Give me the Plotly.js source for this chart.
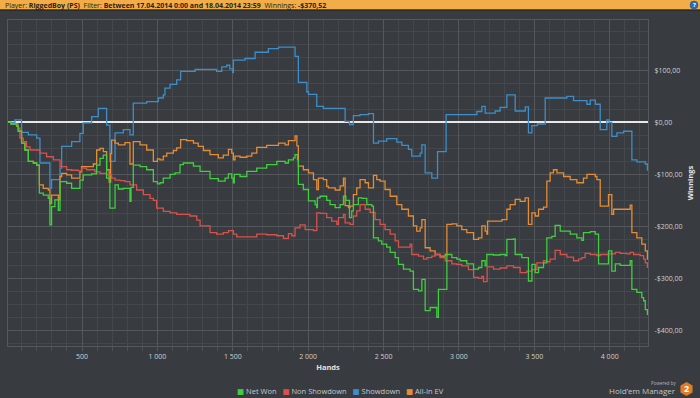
<!DOCTYPE html>
<html><head><meta charset="utf-8">
<script src="https://cdn.plot.ly/plotly-3.0.1.min.js"></script>
<style>html,body{margin:0;padding:0;background:#383b3f;}#chart{width:700px;height:398px;}</style>
</head><body><div id="chart"></div><script>
// ---- data ----
const seriesNames = ['Net Won', 'Non Showdown', 'Showdown', 'All-In EV'];
const seriesColors = ['#3fcf3f', '#d9514c', '#3d8ec9', '#e58c35'];

const netWonHands = [0,30,66,77,99,121,144,177,199,217,243,276,287,298,320,343,354,398,431,486,508,564,597,619,641,663,685,719,741,774,818,825,840,885,929,973,1000,1017,1039,1084,1117,1150,1172,1239,1283,1349,1404,1449,1471,1493,1504,1510,1548,1593,1659,1725,1792,1847,1869,1902,1913,1929,1935,1968,2002,2046,2057,2061,2079,2123,2145,2179,2212,2234,2250,2274,2289,2300,2333,2356,2389,2422,2433,2466,2488,2521,2544,2577,2599,2632,2676,2698,2732,2754,2776,2809,2853,2864,2909,2920,2953,2986,3008,3052,3097,3130,3152,3174,3185,3229,3273,3307,3318,3362,3373,3417,3461,3484,3506,3528,3561,3583,3616,3638,3672,3738,3782,3815,3826,3871,3904,3926,3981,3992,4014,4037,4070,4136,4147,4180,4213,4225,4236,4250];
const netWonValues = [0,-3,-7,-17,-40,-53,-75,-78,-82,-136,-140,-146,-197,-162,-149,-169,-114,-117,-127,-111,-101,-99,-82,-69,-63,-107,-165,-120,-128,-127,-152,-125,-82,-85,-91,-114,-118,-116,-107,-100,-97,-81,-78,-84,-94,-108,-113,-107,-99,-107,-116,-100,-104,-94,-88,-81,-75,-78,-72,-68,-62,-72,-119,-129,-151,-158,-164,-145,-142,-150,-158,-164,-158,-142,-150,-183,-170,-158,-145,-146,-158,-161,-222,-228,-234,-240,-250,-260,-273,-282,-286,-321,-324,-302,-362,-356,-375,-321,-321,-254,-260,-263,-266,-272,-282,-279,-266,-276,-254,-255,-254,-256,-225,-224,-254,-260,-305,-273,-289,-279,-270,-222,-219,-198,-209,-215,-222,-227,-212,-210,-215,-272,-272,-247,-286,-272,-275,-266,-321,-327,-337,-343,-360,-370.52];

const nonShowdownHands = [0,30,77,88,110,132,155,188,221,265,310,354,398,431,475,497,530,586,619,663,696,719,752,785,818,862,907,951,973,995,1039,1084,1128,1216,1261,1283,1349,1393,1437,1471,1504,1526,1593,1659,1725,1792,1836,1869,1891,1913,1946,1980,2035,2057,2079,2123,2156,2190,2201,2234,2245,2278,2300,2322,2344,2378,2411,2444,2477,2510,2544,2577,2599,2643,2676,2687,2732,2765,2787,2820,2842,2875,2909,2953,2986,3019,3063,3097,3130,3152,3163,3187,3229,3273,3318,3362,3406,3450,3484,3517,3561,3583,3605,3638,3672,3716,3760,3793,3815,3837,3871,3915,3937,3992,4037,4070,4114,4136,4158,4202,4225,4236,4250];
const nonShowdownValues = [0,-3,-11,-30,-37,-47,-53,-53,-59,-66,-72,-85,-91,-92,-93,-88,-91,-95,-98,-101,-107,-111,-112,-114,-120,-130,-139,-146,-150,-165,-171,-174,-177,-180,-188,-199,-212,-215,-212,-208,-215,-220,-220,-215,-216,-218,-223,-214,-218,-203,-197,-206,-208,-174,-175,-183,-190,-196,-183,-177,-193,-196,-180,-170,-158,-167,-173,-187,-196,-206,-215,-228,-240,-240,-234,-254,-257,-263,-260,-257,-254,-260,-266,-272,-273,-276,-283,-298,-300,-296,-306,-278,-282,-280,-276,-279,-289,-286,-283,-270,-266,-268,-263,-246,-254,-259,-266,-263,-260,-252,-254,-256,-254,-253,-250,-252,-253,-250,-254,-256,-263,-270,-280];

const showdownHands = [0,55,99,144,199,221,287,298,354,365,431,486,508,564,608,663,685,719,774,818,840,929,1006,1039,1050,1084,1128,1154,1250,1393,1427,1460,1480,1500,1504,1581,1648,1736,1803,1913,1935,1991,2002,2057,2101,2245,2274,2300,2344,2400,2433,2466,2521,2588,2621,2665,2687,2743,2754,2776,2820,2858,2915,3119,3152,3174,3240,3273,3318,3373,3440,3461,3484,3520,3572,3716,3760,3849,3871,3905,3937,3981,3995,4014,4048,4092,4147,4180,4236,4250];
const showdownValues = [0,5,-19,-24,-30,-78,-127,-110,-88,-46,-37,-21,-1,11,27,-5,-75,-20,-14,-24,37,40,47,53,66,73,82,98,102,98,107,110,103,96,120,123,135,142,145,127,77,59,54,31,27,2,-4,13,15,17,-40,-36,-31,-38,-44,-52,-65,-59,-43,-97,-107,-56,15,21,31,18,22,29,53,22,30,-20,-6,-3,47,50,42,35,43,35,-14,5,0,-27,-20,-17,-72,-76,-80,-93];

const allInEvHands = [0,30,66,77,99,121,144,177,199,217,243,276,287,298,343,354,365,398,431,486,497,575,597,619,641,663,680,690,696,719,741,785,818,840,885,929,973,1000,1017,1039,1062,1106,1128,1154,1194,1239,1271,1305,1349,1404,1437,1471,1493,1504,1515,1548,1593,1626,1659,1725,1803,1847,1869,1902,1913,1925,1935,1968,2002,2035,2057,2068,2101,2123,2134,2179,2212,2234,2245,2267,2278,2300,2322,2344,2378,2400,2433,2455,2477,2510,2544,2588,2621,2665,2698,2720,2743,2754,2776,2809,2842,2875,2909,2920,2953,2986,3019,3052,3097,3130,3152,3174,3185,3190,3229,3285,3318,3340,3373,3406,3439,3461,3484,3506,3528,3561,3583,3605,3627,3650,3694,3738,3782,3826,3849,3904,3915,3937,3981,3992,4014,4026,4070,4136,4147,4180,4213,4236,4250];
const allInEvValues = [0,-3,-7,-17,-40,-53,-75,-78,-82,-120,-127,-130,-156,-140,-149,-104,-98,-101,-107,-95,-85,-80,-53,-50,-56,-91,-115,-60,-34,-40,-43,-39,-80,-37,-43,-53,-75,-70,-72,-65,-59,-54,-49,-33,-35,-40,-46,-54,-62,-68,-63,-52,-59,-72,-65,-67,-65,-59,-48,-44,-40,-43,-35,-35,-26,-45,-84,-91,-97,-110,-129,-107,-110,-123,-126,-130,-122,-107,-160,-164,-161,-139,-126,-110,-116,-126,-102,-110,-113,-129,-142,-158,-167,-180,-199,-209,-203,-187,-241,-247,-254,-257,-254,-196,-195,-199,-206,-212,-225,-222,-199,-209,-215,-190,-190,-187,-167,-158,-148,-152,-145,-196,-174,-180,-167,-163,-113,-97,-91,-97,-104,-110,-116,-107,-100,-104,-110,-161,-161,-139,-177,-167,-167,-159,-212,-222,-234,-247,-264];

const xTickValues = [500,1000,1500,2000,2500,3000,3500,4000];
const xTickLabels = ['500','1 000','1 500','2 000','2 500','3 000','3 500','4 000'];
const yTickValues = [100,0,-100,-200,-300,-400];
const yTickLabels = ['$100,00','$0,00','-$100,00','-$200,00','-$300,00','-$400,00'];

const headerText = 'Player: <b>RiggedBoy (PS)</b>\u00a0 Filter: <b>Between 17.04.2014 0:00 and 18.04.2014 23:59</b>\u00a0 Winnings: <b>-$370,52</b>';
const axisXTitle = 'Hands';
const axisYTitle = 'Winnings';

// ---- chart ----
const seriesX = [netWonHands, nonShowdownHands, showdownHands, allInEvHands];
const seriesY = [netWonValues, nonShowdownValues, showdownValues, allInEvValues];
const order = [2, 3, 1, 0]; // drawing order: blue, orange, red, green on top
const traces = order.map(i => ({
  type: 'scatter', mode: 'lines', name: seriesNames[i],
  x: seriesX[i], y: seriesY[i],
  line: {color: seriesColors[i], width: 1.3, shape: 'hv'},
  hoverinfo: 'x+y+name'
}));

const L = 8, R = 648, T = 20, B = 346;
const px = x => (x - L) / (R - L);
const py = y => (B - y) / (B - T);

const legendText = seriesNames.map((n, i) =>
  '<span style="color:' + seriesColors[i] + '">\u25A0</span> ' + n).join('\u00a0\u00a0\u00a0');

const hex = [];
for (let k = 0; k < 6; k++) {
  const a = Math.PI / 6 + k * Math.PI / 3;
  hex.push([686.5 + 7 * Math.cos(a), 389 + 7 * Math.sin(a)]);
}
const hexPath = 'M' + hex.map(p => px(p[0]).toFixed(5) + ',' + py(p[1]).toFixed(5)).join('L') + 'Z';

const layout = {
  width: 700, height: 398,
  margin: {l: L, r: 700 - R, t: T, b: 398 - B, pad: 0},
  paper_bgcolor: '#383b3f', plot_bgcolor: '#383b3f',
  font: {family: '"Open Sans", "DejaVu Sans", sans-serif', color: '#cfd0d2', size: 7},
  showlegend: false,
  xaxis: {
    range: [9, 4254], tickmode: 'array', tickvals: xTickValues, ticktext: xTickLabels,
    showgrid: true, gridcolor: '#54575c', gridwidth: 1, zeroline: false,
    showline: true, mirror: true, linecolor: '#55585d', linewidth: 1,
    ticks: 'outside', ticklen: 4, tickcolor: '#55585d',
    tickfont: {size: 7, color: '#cfd0d2'},
    minor: {dtick: 100, tick0: 0, showgrid: true, gridcolor: '#44474b', ticks: 'outside', ticklen: 4, tickcolor: '#4d5055'},
    title: {text: '<b>' + axisXTitle + '</b>', font: {size: 7.5, color: '#e2e2e2'}, standoff: 4}
  },
  yaxis: {
    side: 'right', range: [-430, 197], tickmode: 'array', tickvals: yTickValues, ticktext: yTickLabels,
    showgrid: true, gridcolor: '#54575c', gridwidth: 1,
    zeroline: true, zerolinecolor: '#e8e8e8', zerolinewidth: 2,
    showline: true, mirror: true, linecolor: '#55585d', linewidth: 1,
    ticks: '', ticklabelstandoff: 4,
    tickfont: {size: 7, color: '#cfd0d2'},
    minor: {dtick: 25, tick0: 0, showgrid: true, gridcolor: '#44474b'},
    title: {text: '<b>' + axisYTitle + '</b>', font: {size: 7.5, color: '#e2e2e2'}, standoff: 6}
  },
  shapes: [
    {type: 'rect', xref: 'paper', yref: 'paper', x0: px(0), x1: px(700), y0: py(9.5), y1: py(0), fillcolor: '#f3ad48', line: {width: 0}, layer: 'below'},
    {type: 'rect', xref: 'paper', yref: 'paper', x0: px(0), x1: px(700), y0: py(11), y1: py(9.5), fillcolor: '#2a2c2f', line: {width: 0}, layer: 'below'},
    {type: 'circle', xref: 'paper', yref: 'paper', x0: px(690), x1: px(698), y0: py(9), y1: py(1), fillcolor: '#2b6cb3', line: {color: '#1d4f8a', width: 0.5}},
    {type: 'path', xref: 'paper', yref: 'paper', path: hexPath, fillcolor: '#e07b26', line: {width: 0}}
  ],
  annotations: [
    {xref: 'paper', yref: 'paper', x: px(3), y: py(5), xanchor: 'left', yanchor: 'middle', showarrow: false,
     text: headerText, font: {size: 7, color: '#2b2214'}},
    {xref: 'paper', yref: 'paper', x: px(694), y: py(5), xanchor: 'center', yanchor: 'middle', showarrow: false,
     text: '<b>?</b>', font: {size: 6, color: '#ffffff'}},
    {xref: 'paper', yref: 'paper', x: px(340), y: py(391), xanchor: 'center', yanchor: 'middle', showarrow: false,
     text: legendText, font: {size: 7.5, color: '#c9cacc'}},
    {xref: 'paper', yref: 'paper', x: px(678), y: py(383), xanchor: 'right', yanchor: 'middle', showarrow: false,
     text: 'Powered by', font: {size: 4.5, color: '#b5b6b8'}},
    {xref: 'paper', yref: 'paper', x: px(678), y: py(390), xanchor: 'right', yanchor: 'middle', showarrow: false,
     text: 'Hold\u2019em Manager', font: {size: 8, color: '#c3c4c6'}},
    {xref: 'paper', yref: 'paper', x: px(686.5), y: py(389), xanchor: 'center', yanchor: 'middle', showarrow: false,
     text: '<b>2</b>', font: {size: 9, color: '#ffffff'}}
  ]
};

Plotly.newPlot('chart', traces, layout, {displayModeBar: false, staticPlot: true});
</script></body></html>
